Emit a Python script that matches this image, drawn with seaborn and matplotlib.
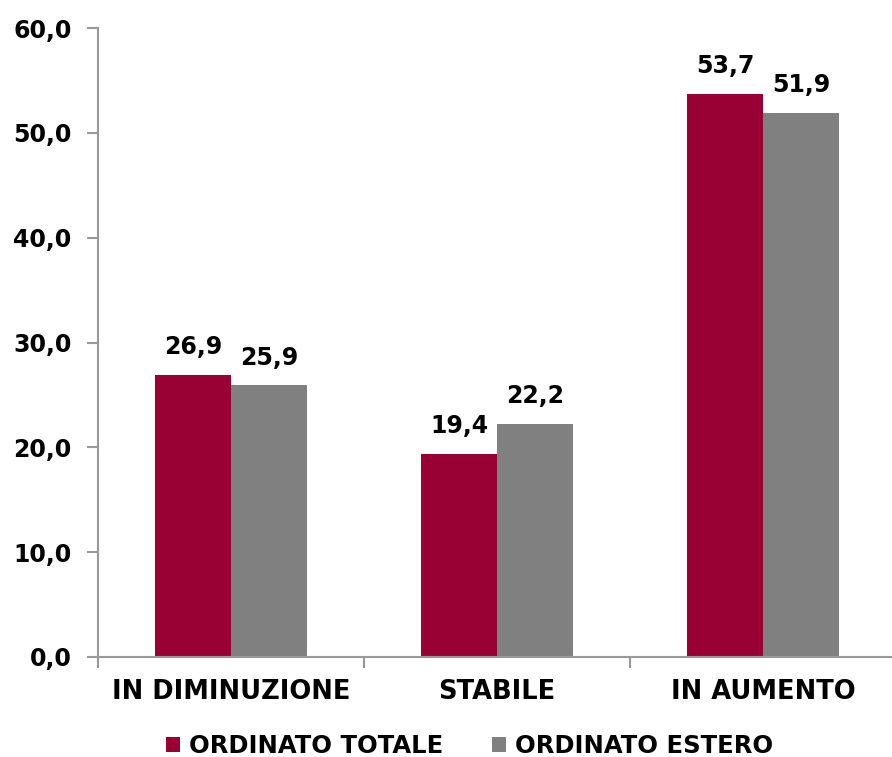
import pandas as pd
import seaborn as sns
import matplotlib.pyplot as plt

# Data
categories = ['IN DIMINUZIONE', 'STABILE', 'IN AUMENTO']
ordinato_totale = [26.9, 19.4, 53.7]
ordinato_estero = [25.9, 22.2, 51.9]
series_names = ['ORDINATO TOTALE', 'ORDINATO ESTERO']
y_ticks = [0, 10, 20, 30, 40, 50, 60]

df = pd.DataFrame({
    'Categoria': categories * 2,
    'Valore': ordinato_totale + ordinato_estero,
    'Serie': [series_names[0]] * 3 + [series_names[1]] * 3,
})

sns.set_style('white')
plt.rcParams['font.family'] = ['DejaVu Sans']
plt.rcParams['font.weight'] = 'bold'
plt.rcParams['text.color'] = 'black'
plt.rcParams['xtick.color'] = 'black'
plt.rcParams['ytick.color'] = 'black'

fig = plt.figure(figsize=(8.92, 7.57), dpi=100)
ax = fig.add_axes([98 / 892, 100 / 757, 798 / 892, 629 / 757])

sns.barplot(data=df, x='Categoria', y='Valore', hue='Serie',
            palette=['#990033', '#808080'], width=0.572, saturation=1,
            linewidth=0, ax=ax, legend=True)

# value labels
for cont in ax.containers:
    labels = [f'{v:.1f}'.replace('.', ',') for v in cont.datavalues]
    ax.bar_label(cont, labels=labels, padding=11.5, fontsize=17, fontweight='bold')

ax.set_xlim(-0.5, 2.5)
ax.set_ylim(0, 60)
ax.set_yticks(y_ticks)
ax.set_yticklabels([f'{t:.1f}'.replace('.', ',') for t in y_ticks],
                   fontsize=17, fontweight='bold')
ax.set_xticks([0, 1, 2])
ax.set_xticklabels(categories, fontsize=18.5, fontweight='bold')
ax.tick_params(axis='x', length=0, pad=16)
ax.tick_params(axis='y', length=8, width=1.5, color='#999999', direction='out', left=True, pad=11)
# category separator ticks
ax.set_xticks([-0.5, 0.5, 1.5, 2.5], minor=True)
ax.tick_params(axis='x', which='minor', length=8, width=1.5, color='#999999', bottom=True)

ax.set_xlabel('')
ax.set_ylabel('')
sns.despine(ax=ax, top=True, right=True)
for s in ['left', 'bottom']:
    ax.spines[s].set_color('#999999')
    ax.spines[s].set_linewidth(1.5)

ax.legend(loc='center', bbox_to_anchor=(0.4655, -0.1415), ncol=2, frameon=False,
          prop={'size': 17.5, 'weight': 'bold'}, handlelength=0.58, handleheight=0.58,
          handletextpad=0.37, columnspacing=2.0)

fig.savefig('out.png', dpi=100)
